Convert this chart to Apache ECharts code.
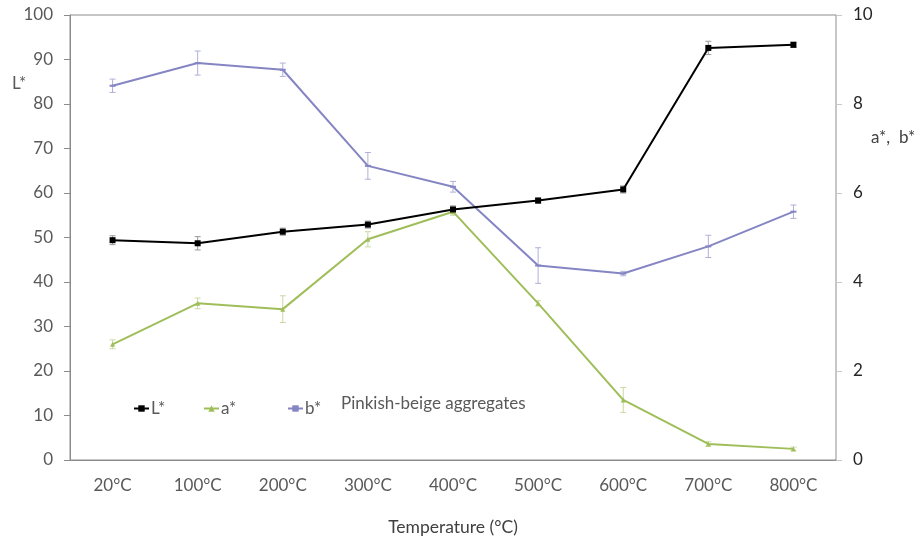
<!DOCTYPE html>
<html>
<head>
<meta charset="utf-8">
<script src="https://cdn.jsdelivr.net/npm/echarts@6/dist/echarts.min.js"></script>
<style>
  html, body { margin: 0; padding: 0; background: #fff; }
  #chart { width: 923px; height: 541px; }
</style>
</head>
<body>
<div id="chart"></div>
<script>
// Temperature steps
const categories = ['20°C', '100°C', '200°C', '300°C', '400°C', '500°C', '600°C', '700°C', '800°C'];

// Lightness (left axis)
const lValues = [49.4, 48.7, 51.3, 52.9, 56.3, 58.3, 60.8, 92.6, 93.3];
const lErrors = [1.0, 1.5, 0.8, 0.8, 0.8, 0.6, 0.8, 1.5, 0.6];

// a* and b* (right axis)
const aValues = [2.60, 3.52, 3.39, 4.96, 5.58, 3.52, 1.35, 0.36, 0.25];
const aErrors = [0.10, 0.12, 0.30, 0.17, 0.08, 0.06, 0.28, 0.05, 0.04];
const bValues = [8.41, 8.92, 8.77, 6.61, 6.14, 4.37, 4.19, 4.80, 5.58];
const bErrors = [0.15, 0.27, 0.15, 0.30, 0.12, 0.40, 0.05, 0.25, 0.15];

const leftTicks = { min: 0, max: 100, interval: 10 };
const rightTicks = { min: 0, max: 10, interval: 2 };

const COLOR_L = '#000000';
const COLOR_A = '#9fbe5a';
const COLOR_B = '#8585c4';
const FONT = 'Lato, "Open Sans", sans-serif';
const FS = 17;

// Builds a custom series drawing vertical error bars with caps
function errorBars(values, errors, yAxisIndex, color) {
  return {
    type: 'custom',
    yAxisIndex: yAxisIndex,
    silent: true,
    z: 1,
    data: values.map((v, i) => [i, v - errors[i], v + errors[i]]),
    renderItem: function (params, api) {
      const lo = api.coord([api.value(0), api.value(1)]);
      const hi = api.coord([api.value(0), api.value(2)]);
      const cap = 3;
      const style = { stroke: color, lineWidth: 1 };
      return {
        type: 'group',
        children: [
          { type: 'line', shape: { x1: hi[0], y1: hi[1], x2: lo[0], y2: lo[1] }, style: style },
          { type: 'line', shape: { x1: hi[0] - cap, y1: hi[1], x2: hi[0] + cap, y2: hi[1] }, style: style },
          { type: 'line', shape: { x1: lo[0] - cap, y1: lo[1], x2: lo[0] + cap, y2: lo[1] }, style: style }
        ]
      };
    }
  };
}

function legendAt(name, left) {
  return {
    left: left, top: 395,
    itemWidth: 15, itemHeight: 8, itemGap: 0,
    textStyle: { color: '#595959', fontSize: FS, fontFamily: FONT, padding: [0, 0, 0, -3] },
    data: [{ name: name }]
  };
}

const chart = echarts.init(document.getElementById('chart'));
chart.setOption({
  animation: false,
  backgroundColor: '#ffffff',
  textStyle: { fontFamily: FONT },
  grid: {
    left: 70, right: 87, top: 15, bottom: 80,
    show: true, borderColor: '#8c8c8c', borderWidth: 1
  },
  legend: [
    legendAt('L*', 128),
    legendAt('a*', 198),
    legendAt('b*', 282)
  ],
  graphic: [
    {
      type: 'text', left: 341, top: 395,
      style: { text: 'Pinkish-beige aggregates', fill: '#595959', font: FS + 'px ' + FONT }
    },
    {
      type: 'text', left: 12, top: 75,
      style: { text: 'L*', fill: '#595959', font: FS + 'px ' + FONT }
    },
    {
      type: 'text', left: 871, top: 129,
      style: { text: 'a*,  b*', fill: '#404040', font: FS + 'px ' + FONT }
    }
  ],
  xAxis: {
    type: 'category',
    data: categories,
    boundaryGap: true,
    name: 'Temperature (°C)',
    nameLocation: 'middle',
    nameGap: 58,
    nameTextStyle: { color: '#404040', fontSize: FS + 0.5, fontFamily: FONT },
    axisLine: { lineStyle: { color: '#8c8c8c' } },
    axisTick: { show: false },
    axisLabel: { color: '#595959', fontSize: FS, margin: 17, fontFamily: FONT }
  },
  yAxis: [
    {
      type: 'value',
      position: 'left',
      min: leftTicks.min, max: leftTicks.max, interval: leftTicks.interval,
      axisLine: { show: true, lineStyle: { color: '#8c8c8c' } },
      axisTick: { show: true, length: 6, lineStyle: { color: '#8c8c8c' } },
      axisLabel: { color: '#595959', fontSize: FS, margin: 17, fontFamily: FONT },
      splitLine: { show: false }
    },
    {
      type: 'value',
      position: 'right',
      min: rightTicks.min, max: rightTicks.max, interval: rightTicks.interval,
      axisLine: { show: true, lineStyle: { color: '#c8c8c8' } },
      axisTick: { show: true, length: 6, lineStyle: { color: '#c8c8c8' } },
      axisLabel: { color: '#262626', fontSize: FS, margin: 17, fontFamily: FONT },
      splitLine: { show: false }
    }
  ],
  series: [
    errorBars(lValues, lErrors, 0, '#9a9a9a'),
    errorBars(aValues, aErrors, 1, '#c9d9a4'),
    errorBars(bValues, bErrors, 1, '#b0b0d8'),
    {
      name: 'L*', type: 'line', yAxisIndex: 0, data: lValues,
      symbol: 'rect', symbolSize: 6, z: 3,
      lineStyle: { color: COLOR_L, width: 2 },
      itemStyle: { color: COLOR_L }
    },
    {
      name: 'a*', type: 'line', yAxisIndex: 1, data: aValues,
      symbol: 'triangle', symbolSize: 5, z: 2,
      lineStyle: { color: COLOR_A, width: 2 },
      itemStyle: { color: COLOR_A }
    },
    {
      name: 'b*', type: 'line', yAxisIndex: 1, data: bValues,
      symbol: 'rect', symbolSize: [6, 2], z: 2,
      lineStyle: { color: COLOR_B, width: 2 },
      itemStyle: { color: COLOR_B }
    }
  ]
});
</script>
</body>
</html>
